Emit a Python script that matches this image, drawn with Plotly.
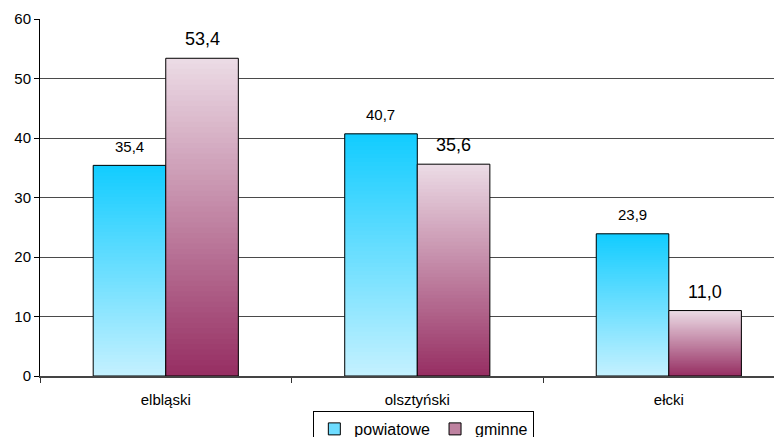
import plotly.graph_objects as go

categories = ["elbląski", "olsztyński", "ełcki"]
powiatowe = [35.4, 40.7, 23.9]
gminne = [53.4, 35.6, 11.0]
series_names = ["powiatowe", "gminne"]
y_ticks = [0, 10, 20, 30, 40, 50, 60]

N = 60
# gradient colours (bottom -> top)
grad = {
    "powiatowe": ((196, 241, 255), (18, 204, 255)),
    "gminne": ((150, 46, 98), (236, 220, 230)),
}

def mix(c0, c1, t):
    return "rgb(%d,%d,%d)" % tuple(round(a + (b - a) * t) for a, b in zip(c0, c1))

fig = go.Figure()
data = {"powiatowe": powiatowe, "gminne": gminne}

for name in series_names:
    vals = data[name]
    c0, c1 = grad[name]
    for k in range(N):
        t = (k + 0.5) / N
        # each slice overlaps the next one to avoid anti-aliasing seams
        fig.add_trace(go.Bar(
            x=categories,
            y=[v * min(2, N - k) / N for v in vals],
            base=[v * k / N for v in vals],
            offsetgroup=name,
            marker=dict(color=mix(c0, c1, t), line=dict(width=0)),
            showlegend=False,
            hoverinfo="skip",
        ))
    # outline
    fig.add_trace(go.Bar(
        x=categories, y=vals, offsetgroup=name,
        marker=dict(color="rgba(0,0,0,0)", line=dict(color="black", width=1)),
        showlegend=False, hoverinfo="skip",
    ))

# legend entries
legend_cols = {"powiatowe": "rgb(110,220,255)", "gminne": "rgb(190,130,160)"}
for name in series_names:
    fig.add_trace(go.Bar(
        x=[None], y=[None], name=name, offsetgroup=name,
        marker=dict(color=legend_cols[name], line=dict(color="black", width=1)),
    ))

annotations = []
for name, shift, size in (("powiatowe", -36.3, 15), ("gminne", 36.3, 18)):
    for c, v in zip(categories, data[name]):
        annotations.append(dict(
            x=c, y=v, xref="x", yref="y", xshift=shift, yshift=19,
            text=f"{v:.1f}".replace(".", ","), showarrow=False,
            yanchor="middle", xanchor="center",
            font=dict(size=size, color="black"),
        ))

# the page body adds an 8px offset, so the figure is 8px smaller than the window
fig.update_layout(
    width=774, height=429,
    margin=dict(l=32, r=1, t=11, b=61, autoexpand=False),
    paper_bgcolor="white", plot_bgcolor="white",
    barmode="group", bargap=0.423, bargroupgap=0,
    separators=", ",
    font=dict(family="Liberation Sans, Arial, sans-serif", size=15, color="black"),
    annotations=annotations,
    legend=dict(
        orientation="h", x=0.518, xanchor="center", y=-0.098, yanchor="top",
        bordercolor="black", borderwidth=1, bgcolor="white",
        font=dict(size=16), itemwidth=30, tracegroupgap=0,
    ),
    showlegend=True,
)
fig.update_xaxes(
    range=[-0.5, 2.446], tickson="boundaries", ticks="outside", ticklen=5,
    tickcolor="#333", showline=True, linecolor="#444", linewidth=1.5,
    showgrid=False, tickfont=dict(size=15), fixedrange=True, automargin=False,
    ticklabelstandoff=9,
)
fig.update_yaxes(
    range=[0, 60], tickvals=y_ticks, ticks="outside", ticklen=5,
    tickcolor="black", showline=True, linecolor="black", linewidth=1,
    showgrid=True, gridcolor="#4a4a4a", gridwidth=1, zeroline=False,
    tickfont=dict(size=15), fixedrange=True, automargin=False,
)

fig.write_html("out.html")
